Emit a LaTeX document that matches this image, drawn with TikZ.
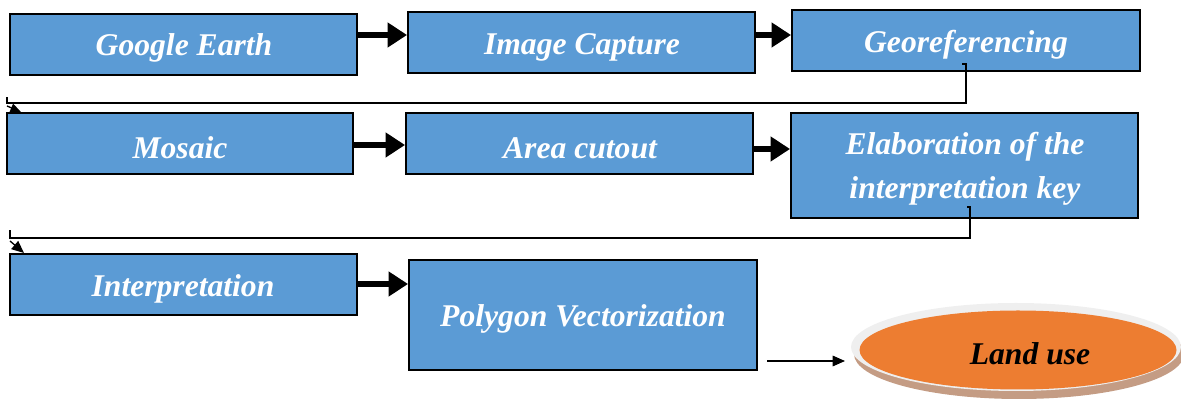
\documentclass[tikz,border=0pt]{standalone}
\usepackage{fontspec}
\setmainfont{Liberation Serif}
\usetikzlibrary{arrows.meta,shapes.geometric}
\definecolor{boxblue}{HTML}{5B9BD5}
\definecolor{landorange}{HTML}{ED7D31}
\definecolor{ringgrey}{HTML}{EFEFEF}
\definecolor{shadowbrown}{HTML}{C49C84}
\begin{document}
\begin{tikzpicture}[x=0.02cm,y=-0.02cm,
  stepbox/.style={draw=black,line width=1.1pt,fill=boxblue,rectangle,inner sep=0pt},
  thickarrow/.style={line width=3.4pt,-{Triangle[length=11pt,width=13.5pt]}},
  thinline/.style={line width=0.75pt},
  lbl/.style={font=\fontsize{18}{22}\selectfont\bfseries\itshape,text=white,align=center,inner sep=0pt}]
\useasboundingbox (0,0) rectangle (1181,401);
% row 1
\node[stepbox,minimum width=347*0.02cm,minimum height=61*0.02cm] (ge) at (183.5,44.5) {};
\node[lbl] (get) at (184,48) {Google Earth};
\node[stepbox,minimum width=347*0.02cm,minimum height=61*0.02cm] (ic) at (581.5,42.5) {};
\node[lbl] (ict) at (582,47) {Image Capture};
\node[stepbox,minimum width=348*0.02cm,minimum height=61*0.02cm] (geo) at (966,40.5) {};
\node[lbl] (geot) at (966,45) {Georeferencing};
% row 2
\node[stepbox,minimum width=346*0.02cm,minimum height=61*0.02cm] (mo) at (180,143.5) {};
\node[lbl] (mot) at (180,148) {Mosaic};
\node[stepbox,minimum width=347*0.02cm,minimum height=61*0.02cm] (ac) at (579.5,143.5) {};
\node[lbl] (act) at (580,148) {Area cutout};
\node[stepbox,minimum width=347*0.02cm,minimum height=105*0.02cm] (el) at (964.5,165.5) {};
\node[lbl] (elt) at (965,169) {Elaboration of the\\[3pt]interpretation key};
% row 3
\node[stepbox,minimum width=347*0.02cm,minimum height=61*0.02cm] (in) at (183.5,284.5) {};
\node[lbl] (int) at (183,289) {Interpretation};
\node[stepbox,minimum width=348*0.02cm,minimum height=110*0.02cm] (pv) at (583,315) {};
\node[lbl] (pvt) at (583,319) {Polygon Vectorization};
% thick arrows
\draw[thickarrow] (ge.east |- 0,35) -- (ic.west |- 0,35);
\draw[thickarrow] (ic.east |- 0,35) -- (geo.west |- 0,35);
\draw[thickarrow] (mo.east |- 0,145) -- (ac.west |- 0,145);
\draw[thickarrow] (ac.east |- 0,149) -- (el.west |- 0,149);
\draw[thickarrow] (in.east |- 0,284) -- (pv.west |- 0,284);
% elbow connectors
\coordinate (c1s) at (962,64);
\coordinate (c1a) at (966,64);
\coordinate (c1b) at (966,103);
\coordinate (c1c) at (7,103);
\coordinate (c1d) at (7,97);
\coordinate (c1e) at (7,106);
\coordinate (c1t) at (21,112);
\draw[thinline] (c1s) -- (c1a) -- (c1b) -- (c1c) -- (c1d);
\draw[thinline,-{Triangle[length=6pt,width=5pt]}] (c1e) -- (c1t);
\coordinate (c2s) at (967,207);
\coordinate (c2a) at (970,207);
\coordinate (c2b) at (970,238);
\coordinate (c2c) at (10,238);
\coordinate (c2d) at (10,230);
\coordinate (c2e) at (10,241);
\coordinate (c2t) at (24,253);
\draw[thinline] (c2s) -- (c2a) -- (c2b) -- (c2c) -- (c2d);
\draw[thinline,-{Triangle[length=7pt,width=6pt]}] (c2e) -- (c2t);
% land use ellipse
\node[ellipse,fill=shadowbrown,minimum width=330*0.02cm,minimum height=90*0.02cm,inner sep=0pt] (sh) at (1019,354) {};
\node[ellipse,fill=ringgrey,minimum width=330*0.02cm,minimum height=88*0.02cm,inner sep=0pt] (ring) at (1016,347) {};
\node[ellipse,fill=landorange,minimum width=317*0.02cm,minimum height=79*0.02cm,inner sep=0pt] (lu) at (1018,350) {};
\node[font=\fontsize{18}{22}\selectfont\bfseries\itshape,inner sep=0pt] (lut) at (1030,354) {Land use};
\coordinate (a0) at (767,361);
\coordinate (a1) at (845,361);
\draw[thinline,-{Triangle[length=7pt,width=6pt]}] (a0) -- (a1);
\end{tikzpicture}
\end{document}
